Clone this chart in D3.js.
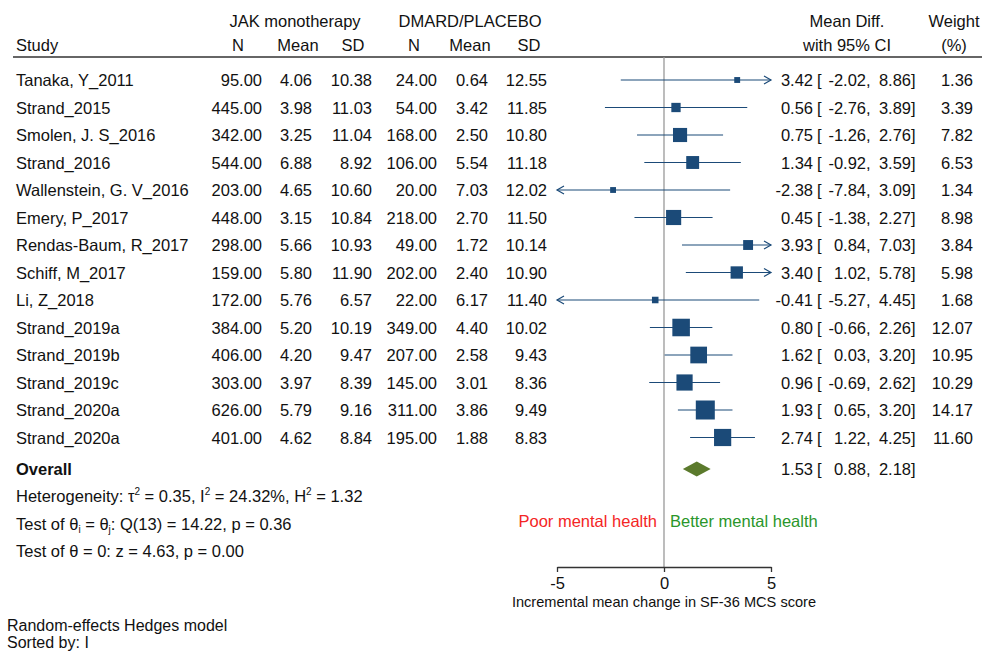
<!DOCTYPE html>
<html>
<head>
<meta charset="utf-8">
<script src="https://cdn.jsdelivr.net/npm/d3@7"></script>
<style>
  body { margin: 0; background: #fff; }
  svg text { font-family: "Liberation Sans", Arial, sans-serif; fill: #111; }
</style>
</head>
<body>
<div id="forest"></div>
<script>
// study rows
let studies = ["Tanaka, Y_2011", "Strand_2015", "Smolen, J. S_2016", "Strand_2016",
    "Wallenstein, G. V_2016", "Emery, P_2017", "Rendas-Baum, R_2017", "Schiff, M_2017",
    "Li, Z_2018", "Strand_2019a", "Strand_2019b", "Strand_2019c", "Strand_2020a", "Strand_2020a"]
let jakN    = [95, 445, 342, 544, 203, 448, 298, 159, 172, 384, 406, 303, 626, 401]
let jakMean = [4.06, 3.98, 3.25, 6.88, 4.65, 3.15, 5.66, 5.80, 5.76, 5.20, 4.20, 3.97, 5.79, 4.62]
let jakSD   = [10.38, 11.03, 11.04, 8.92, 10.60, 10.84, 10.93, 11.90, 6.57, 10.19, 9.47, 8.39, 9.16, 8.84]
let ctlN    = [24, 54, 168, 106, 20, 218, 49, 202, 22, 349, 207, 145, 311, 195]
let ctlMean = [0.64, 3.42, 2.50, 5.54, 7.03, 2.70, 1.72, 2.40, 6.17, 4.40, 2.58, 3.01, 3.86, 1.88]
let ctlSD   = [12.55, 11.85, 10.80, 11.18, 12.02, 11.50, 10.14, 10.90, 11.40, 10.02, 9.43, 8.36, 9.49, 8.83]
let md      = [3.42, 0.56, 0.75, 1.34, -2.38, 0.45, 3.93, 3.40, -0.41, 0.80, 1.62, 0.96, 1.93, 2.74]
let ciLow   = [-2.02, -2.76, -1.26, -0.92, -7.84, -1.38, 0.84, 1.02, -5.27, -0.66, 0.03, -0.69, 0.65, 1.22]
let ciHigh  = [8.86, 3.89, 2.76, 3.59, 3.09, 2.27, 7.03, 5.78, 4.45, 2.26, 3.20, 2.62, 3.20, 4.25]
let weight  = [1.36, 3.39, 7.82, 6.53, 1.34, 8.98, 3.84, 5.98, 1.68, 12.07, 10.95, 10.29, 14.17, 11.60]

let overall = {md: 1.53, lo: 0.88, hi: 2.18}
let plotDomain = [-5, 5]
let tickValues = [-5, 0, 5]

let W = 982, H = 651
let box_color = "#1b4a78"
let diamond_color = "#5b7a2c"
let fs = "16.5px"

let svg = d3.select("#forest").append("svg")
    .attr("width", W).attr("height", H)
    .attr("viewBox", `0 0 ${W} ${H}`)

svg.append("rect").attr("width", W).attr("height", H).attr("fill", "#fff")

let x = d3.scaleLinear().domain(plotDomain).range([557, 771])
let y = d3.scaleLinear().domain([0, 13]).range([80, 437.5])
let side = d3.scaleSqrt().domain([0, d3.max(weight)]).range([0, 19])
let f2 = v => v.toFixed(2)

let rows = studies.map((s, i) => ({
    study: s, n1: jakN[i], m1: jakMean[i], sd1: jakSD[i],
    n2: ctlN[i], m2: ctlMean[i], sd2: ctlSD[i],
    md: md[i], lo: ciLow[i], hi: ciHigh[i], w: weight[i], i: i
}))

// headers
let hdr = svg.append("g").style("font-size", fs)
hdr.append("text").attr("x", 295).attr("y", 27).attr("text-anchor", "middle").text("JAK monotherapy")
hdr.append("text").attr("x", 470).attr("y", 27).attr("text-anchor", "middle").text("DMARD/PLACEBO")
hdr.append("text").attr("x", 847).attr("y", 27).attr("text-anchor", "middle").text("Mean Diff.")
hdr.append("text").attr("x", 954).attr("y", 27).attr("text-anchor", "middle").text("Weight")
hdr.append("text").attr("x", 16).attr("y", 51).text("Study")
let colHeads = [["N", 238], ["Mean", 298], ["SD", 353], ["N", 414], ["Mean", 470], ["SD", 529]]
colHeads.forEach(c => hdr.append("text").attr("x", c[1]).attr("y", 51).attr("text-anchor", "middle").text(c[0]))
hdr.append("text").attr("x", 847).attr("y", 51).attr("text-anchor", "middle").text("with 95% CI")
hdr.append("text").attr("x", 954).attr("y", 51).attr("text-anchor", "middle").text("(%)")

svg.append("line").attr("x1", 13).attr("x2", 982).attr("y1", 57).attr("y2", 57)
    .attr("stroke", "#333").attr("stroke-width", 1.6)

// zero line
svg.append("line").attr("x1", x(0)).attr("x2", x(0)).attr("y1", 57).attr("y2", 567)
    .attr("stroke", "#999").attr("stroke-width", 1.3)

// table text
let tbl = svg.append("g").style("font-size", fs)
let cols = [["n1", 262], ["m1", 312], ["sd1", 372], ["n2", 437], ["m2", 488], ["sd2", 547]]
let rowG = tbl.selectAll("g.row").data(rows).enter().append("g")
    .attr("class", "row")
    .attr("transform", d => `translate(0,${y(d.i) + 6})`)
rowG.append("text").attr("x", 16).text(d => d.study)
cols.forEach(c => {
    rowG.append("text").attr("x", c[1]).attr("text-anchor", "end").text(d => f2(d[c[0]]))
})
let ciText = function(g) {
    g.append("text").attr("x", 813).attr("text-anchor", "end").text(d => f2(d.md))
    g.append("text").attr("x", 817).text("[")
    g.append("text").attr("x", 866).attr("text-anchor", "end").text(d => f2(d.lo))
    g.append("text").attr("x", 866).text(",")
    g.append("text").attr("x", 911).attr("text-anchor", "end").text(d => f2(d.hi))
    g.append("text").attr("x", 911).text("]")
}
ciText(rowG)
rowG.append("text").attr("x", 973).attr("text-anchor", "end").text(d => f2(d.w))

// CI lines, clipped at the plot window with open arrows
let marks = svg.append("g")
let [xmin, xmax] = plotDomain
marks.selectAll("line.ci").data(rows).enter().append("line")
    .attr("x1", d => x(Math.max(d.lo, xmin)))
    .attr("x2", d => x(Math.min(d.hi, xmax)))
    .attr("y1", d => y(d.i)).attr("y2", d => y(d.i))
    .attr("stroke", box_color).attr("stroke-width", 1.2)
marks.selectAll("g.arr").data(rows.filter(d => d.hi > xmax || d.lo < xmin)).enter().append("g")
    .each(function(d) {
        let g = d3.select(this)
        let yy = y(d.i)
        if (d.hi > xmax) {
            let xx = x(xmax)
            g.append("path").attr("d", `M${xx - 7},${yy - 4}L${xx},${yy}L${xx - 7},${yy + 4}`)
                .attr("fill", "none").attr("stroke", box_color).attr("stroke-width", 1.2)
        }
        if (d.lo < xmin) {
            let xx = x(xmin)
            g.append("path").attr("d", `M${xx + 7},${yy - 4}L${xx},${yy}L${xx + 7},${yy + 4}`)
                .attr("fill", "none").attr("stroke", box_color).attr("stroke-width", 1.2)
        }
    })
marks.selectAll("rect.box").data(rows).enter().append("rect")
    .attr("x", d => x(d.md) - side(d.w) / 2)
    .attr("y", d => y(d.i) - side(d.w) / 2)
    .attr("width", d => side(d.w)).attr("height", d => side(d.w))
    .attr("fill", box_color)

// overall
let yo = 469
svg.append("text").attr("x", 16).attr("y", yo + 6).style("font-size", fs)
    .style("font-weight", "bold").text("Overall")
svg.append("path")
    .attr("d", `M${x(overall.lo)},${yo}L${x(overall.md)},${yo - 7.5}L${x(overall.hi)},${yo}L${x(overall.md)},${yo + 7.5}Z`)
    .attr("fill", diamond_color)
let og = svg.append("g").datum(overall).attr("transform", `translate(0,${yo + 6})`).style("font-size", fs)
ciText(og)

// heterogeneity notes
let notes = svg.append("g").style("font-size", fs)
let t1 = notes.append("text").attr("x", 16).attr("y", 502)
t1.append("tspan").text("Heterogeneity: τ")
t1.append("tspan").attr("dy", -7).style("font-size", "10px").text("2")
t1.append("tspan").attr("dy", 7).text(" = 0.35, I")
t1.append("tspan").attr("dy", -7).style("font-size", "10px").text("2")
t1.append("tspan").attr("dy", 7).text(" = 24.32%, H")
t1.append("tspan").attr("dy", -7).style("font-size", "10px").text("2")
t1.append("tspan").attr("dy", 7).text(" = 1.32")
let t2 = notes.append("text").attr("x", 16).attr("y", 530)
t2.append("tspan").text("Test of θ")
t2.append("tspan").attr("dy", 3).style("font-size", "10px").text("i")
t2.append("tspan").attr("dy", -3).text(" = θ")
t2.append("tspan").attr("dy", 3).style("font-size", "10px").text("j")
t2.append("tspan").attr("dy", -3).text(": Q(13) = 14.22, p = 0.36")
notes.append("text").attr("x", 16).attr("y", 557).text("Test of θ = 0: z = 4.63, p = 0.00")

// direction labels
svg.append("text").attr("x", 657).attr("y", 527).attr("text-anchor", "end")
    .style("font-size", fs).style("fill", "#f42525").text("Poor mental health")
svg.append("text").attr("x", 670).attr("y", 527)
    .style("font-size", fs).style("fill", "#2a962a").text("Better mental health")

// axis
let axis = svg.append("g").attr("transform", "translate(0,567)")
    .call(d3.axisBottom(x).tickValues(tickValues)
        .tickSize(5).tickSizeOuter(0).tickPadding(5))
axis.selectAll("path, line").attr("stroke", "#333").attr("stroke-width", 1.3)
axis.selectAll("text").style("font-size", fs).style("font-family", "Liberation Sans, Arial, sans-serif")
    .attr("fill", "#111").text(d => d < 0 ? "-" + Math.abs(d) : d)
svg.append("text").attr("x", 664).attr("y", 607).attr("text-anchor", "middle")
    .style("font-size", "14.6px").text("Incremental mean change in SF-36 MCS score")

// footer
svg.append("text").attr("x", 7).attr("y", 631).style("font-size", "16px").text("Random-effects Hedges model")
svg.append("text").attr("x", 7).attr("y", 648).style("font-size", "16px").text("Sorted by: I")
</script>
</body>
</html>
